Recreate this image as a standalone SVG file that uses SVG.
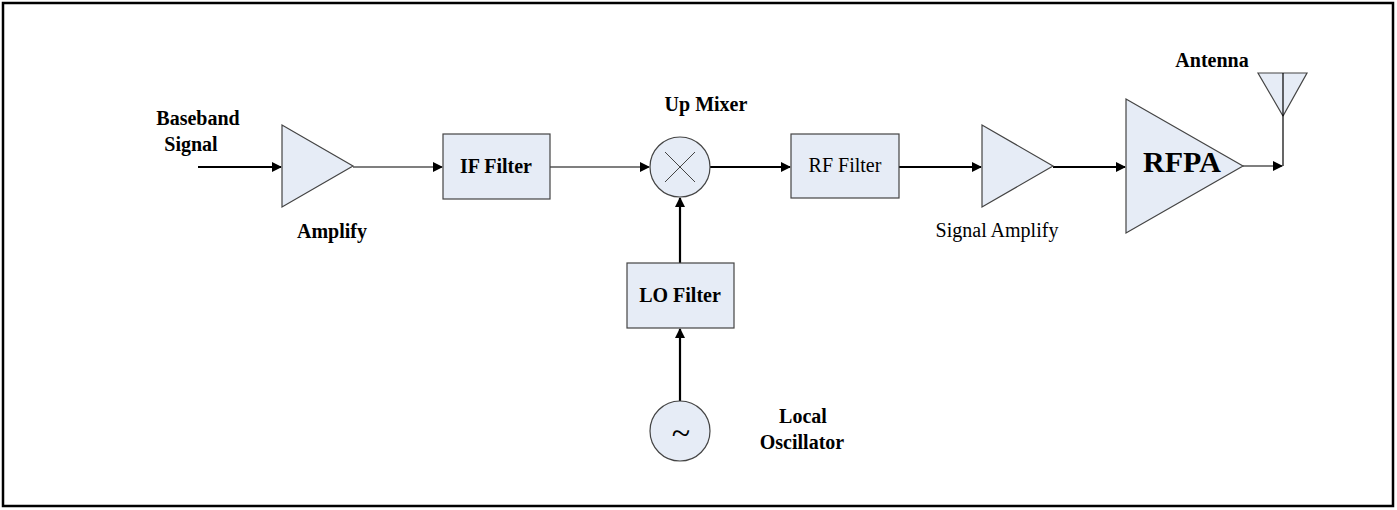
<svg xmlns="http://www.w3.org/2000/svg" width="1397" height="510" viewBox="0 0 1397 510">
<style>
.s{fill:#e6ecf6;stroke:#444;stroke-width:1.2}
.t{font-family:"Liberation Serif",serif;font-size:20px;font-weight:bold;text-anchor:middle;fill:#000}
.n{font-weight:normal}
.th{stroke:#000;stroke-width:2.2;fill:none}
.tn{stroke:#000;stroke-width:1.2;fill:none}
</style>
<defs><marker id="a" markerWidth="10" markerHeight="10" refX="9" refY="5" orient="auto" markerUnits="userSpaceOnUse"><path d="M0,0L10,5L0,10z" fill="#000"/></marker></defs>
<rect x="3" y="3" width="1390" height="503" fill="#fff" stroke="#000" stroke-width="2.5"/>
<g id="connectors">
<line class="th" x1="198" y1="167" x2="281" y2="167" marker-end="url(#a)"/>
<line class="tn" x1="353" y1="167" x2="442" y2="167" marker-end="url(#a)"/>
<line class="tn" x1="550" y1="167" x2="649" y2="167" marker-end="url(#a)"/>
<line class="th" x1="710" y1="167" x2="790" y2="167" marker-end="url(#a)"/>
<line class="th" x1="899" y1="167" x2="981" y2="167" marker-end="url(#a)"/>
<line class="th" x1="1053" y1="167" x2="1125" y2="167" marker-end="url(#a)"/>
<line class="tn" x1="1243" y1="166" x2="1282" y2="166" marker-end="url(#a)"/>
<line class="tn" x1="1283" y1="166" x2="1283" y2="73"/>
<line class="th" x1="680" y1="263" x2="680" y2="198" marker-end="url(#a)"/>
<line class="th" x1="680" y1="401" x2="680" y2="329" marker-end="url(#a)"/>
</g>
<g id="baseband"><text class="t" x="198" y="125">Baseband</text><text class="t" x="191" y="151">Signal</text></g>
<g id="amp1"><polygon class="s" points="282,125 282,207 353,166"/><text class="t" x="332" y="238">Amplify</text></g>
<g id="iffilter"><rect class="s" x="443" y="134" width="107" height="65"/><text class="t" x="496" y="173">IF Filter</text></g>
<g id="mixer"><circle class="s" cx="680" cy="167" r="30"/><path d="M665,152L695,182M695,152L665,182" stroke="#444" stroke-width="1" fill="none"/><text class="t" x="706" y="111">Up Mixer</text></g>
<g id="rffilter"><rect class="s" x="791" y="134" width="108" height="64"/><text class="t n" x="845" y="172">RF Filter</text></g>
<g id="amp2"><polygon class="s" points="982,125 982,207 1053,166"/><text class="t n" x="997" y="237">Signal Amplify</text></g>
<g id="rfpa"><polygon class="s" points="1126,99 1126,233 1243,166"/><text class="t" x="1182" y="172" style="font-size:30px">RFPA</text></g>
<g id="antenna"><polygon class="s" points="1258,73 1307,73 1283,116"/><line class="tn" x1="1283" y1="73" x2="1283" y2="116"/><text class="t" x="1212" y="67">Antenna</text></g>
<g id="lofilter"><rect class="s" x="627" y="263" width="107" height="65"/><text class="t" x="680" y="302">LO Filter</text></g>
<g id="osc"><circle class="s" cx="680" cy="431" r="30"/><text class="t n" x="681" y="444" style="font-size:34px">~</text><text class="t" x="803" y="423">Local</text><text class="t" x="802" y="449">Oscillator</text></g>
</svg>
